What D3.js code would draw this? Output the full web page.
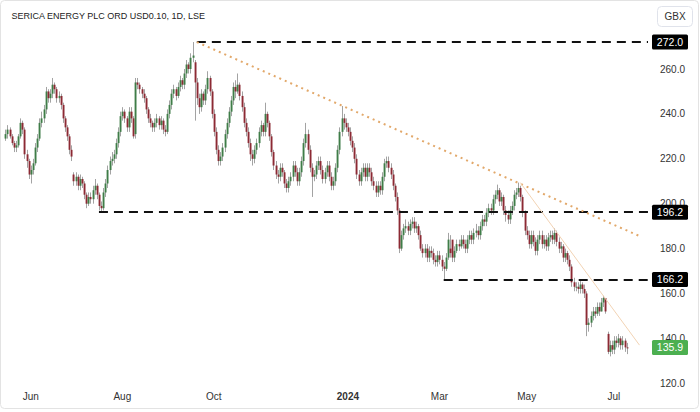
<!DOCTYPE html>
<html><head><meta charset="utf-8">
<script src="https://cdn.jsdelivr.net/npm/d3@7"></script>
<style>html,body{margin:0;padding:0;background:#fff;}svg{display:block;font-family:"Liberation Sans",Arial,sans-serif;}</style>
</head><body><svg id="c" width="700" height="412"></svg>
<script>
const title = "SERICA ENERGY PLC ORD USD0.10, 1D, LSE";
const currency = "GBX";
const firstDate = "2023-05-15";
const holidays = ["2023-05-29","2023-08-28","2023-12-25","2023-12-26","2024-01-01","2024-03-29","2024-04-01","2024-05-06","2024-05-27"];

const opens = [229,231,233,230,227,225,226,230,236,233,222,219,
213,215,218,225,229,236,238,242,250,247,249,253,251,247,248,244,238,234,230,224,213,210,
212,208,211,209,204,200,203,202,206,208,204,199,198,205,209,215,219,220,222,227,232,
239,241,238,234,241,238,231,254,253,251,249,247,242,238,236,234,236,238,235,237,233,232,
240,244,249,251,248,252,255,253,258,262,260,265,263,254,247,243,249,246,251,256,250,
240,232,224,219,221,225,231,236,241,246,252,250,253,248,243,236,232,227,222,220,224,227,
232,235,232,240,236,230,223,217,213,212,216,214,209,207,210,212,217,214,210,214,219,227,
231,224,216,212,213,217,219,215,211,214,217,212,208,210,216,224,232,238,236,
234,232,228,225,220,213,210,214,216,212,216,214,210,208,205,208,206,212,218,219,216,213,
208,203,197,180,186,189,190,188,191,192,189,190,186,180,178,180,176,179,178,175,174,
177,175,172,171,176,180,184,176,179,182,181,184,182,180,184,186,184,187,188,186,
190,193,192,196,198,197,202,204,206,201,203,197,195,193,197,199,204,205,207,203,196,
188,186,182,186,183,179,184,186,182,184,181,185,186,184,187,183,180,181,176,178,175,
172,165,163,163,162,164,162,160,146,147,150,152,151,154,152,156,158,142,134,137,
135,139,138,140,137,139,136];
const highs = [233,235,234,231,228,228,231,238,237,234,224,220,
217,220,227,231,238,241,244,252,251,251,256,254,252,250,249,245,239,235,231,226,214,214,
213,213,212,210,205,205,205,208,211,209,205,201,207,211,217,221,223,224,229,234,241,
243,242,239,243,243,239,256,256,254,252,251,248,243,240,237,238,240,239,239,238,235,242,
246,251,253,252,254,257,256,260,264,263,267,272,264,256,249,251,250,253,259,257,251,
242,234,226,223,227,233,238,243,248,254,255,258,254,250,245,238,234,229,224,226,229,234,
237,236,245,241,237,231,224,219,215,218,218,215,211,212,214,219,219,216,216,221,229,236,
233,226,218,215,219,221,221,217,216,219,219,214,212,218,226,234,243.5,240,238,
236,234,230,227,222,215,216,218,218,218,218,216,212,210,210,210,214,220,221,221,218,215,
209,205,198,188,191,193,192,193,194,194,192,191,188,182,182,182,181,181,180,177,179,
179,177,174,178,187,186,180,181,184,184,186,186,184,186,188,188,189,191,190,192,
195,195,198,200,200,204,206,208.5,207,205,204,199,197,199,201,206,207,209.4,208,204,197,
190,188,188,188,185,186,188,188,186,186,187,188,188,189,188,185,183,182,180,179,177,
173,167,165,165,166,165,164,161,149,152,154,154,156,156,158,159,158,143,139,139,
141,141,142,141,141,140,138];
const lows = [228,229,229,226,223,223,225,229,231,220,216,211,
209,213,217,223,228,234,236,240,245,245,247,249,245,245,242,236,232,228,222,219,208,208,
206,206,207,202,198,199,200,200,204,202,197,196.2,197,203,207,213,217,218,220,225,230,
237,236,232,232,236,229,229,251,249,247,245,240,236,234,232,232,234,233,233,231,230,231,
238,242,247,246,247,250,251,251,256,258,258,263,237,244,240,241,244,244,249,248,238,
230,222,217,217,219,223,229,234,239,244,247,249,246,241,234,230,225,219,217,218,222,225,
230,230,230,234,228,221,215,211,209,210,212,207,205,205,208,210,212,208,208,212,217,225,
222,214,203,210,211,215,213,209,209,212,210,206,206,208,214,222,230,233,232,
230,226,223,218,211,208,208,212,210,210,212,208,206,203,203,204,204,210,216,214,211,206,
201,195,178,179,184,187,186,186,189,187,187,184,179,176,176,174,174,176,173,172,172,
173,170,166.2,170,175,176,174,174,178,179,180,180,178,178,182,182,182,185,184,184,
188,190,190,194,195,195,200,202,199,199,195,192,191,191,195,197,202,203,201,194,186,
184,180,180,181,177,177,182,180,180,179,179,183,182,182,181,178,178,174,174,173,170,
163,161,161,160,160,160,158,141,143,145,148,149,150,150,152,154,151,133,132,133,
133,136,136,135,135,134,133];
const closes = [231,233,230,227,225,226,230,236,233,222,219,213,
215,218,225,229,236,238,242,250,247,249,253,251,247,248,244,238,234,230,224,221,210,212,
208,211,209,204,200,203,202,206,208,204,199,198,205,209,215,219,220,222,227,232,239,
241,238,234,241,238,230,254,253,251,249,247,242,238,236,234,236,238,235,237,233,232,240,
244,249,251,248,252,255,253,258,262,260,265,266,254,247,243,249,246,251,256,250,240,
232,224,219,221,225,231,236,241,246,252,250,253,248,243,236,232,227,222,220,224,227,232,
235,232,240,236,230,223,217,213,212,216,214,209,207,210,212,217,214,210,214,219,227,231,
224,216,212,213,217,219,215,211,214,217,212,208,210,216,224,232,238,236,234,
232,228,225,220,213,210,214,216,212,216,214,210,208,205,208,206,212,218,219,216,213,208,
203,197,180,186,189,190,188,191,192,189,190,186,180,178,180,176,179,178,175,174,177,
175,172,171,176,184,178,176,179,182,181,184,182,180,184,186,184,187,188,186,190,
193,192,196,198,197,202,204,206,201,203,197,195,193,197,199,204,205,207,203,196,188,
186,182,186,183,179,184,186,182,184,181,185,186,184,187,183,180,181,176,178,175,172,
165,163,163,162,164,162,160,146,147,150,152,151,154,152,156,158,152,134,137,135,
139,138,140,137,139,136,135.9];

const yTicks = [120,140,160,180,200,220,240,260];
const xTickMonths = ["2023-06","2023-08","2023-10","2024-01","2024-03","2024-05","2024-07"];
const xTickLabels = ["Jun","Aug","Oct","2024","Mar","May","Jul"];

// horizontal levels: value and the date they start from
const levelValues = [272.0, 196.2, 166.2];
const levelStartDates = ["2023-09-20","2023-07-17","2024-03-05"];
// trend lines: start [date, value], end [bars after last bar, value]
const trendDotted = {from:["2023-09-20",272.0], to:[6,185.6]};
const trendSolid  = {from:["2024-04-26",209.4], to:[6,137.0]};
const lastValue = 135.9;

// ---- build trading dates ----
const fmt = d3.utcFormat("%Y-%m-%d");
const dates = [];
{
  let d = new Date(firstDate + "T00:00:00Z");
  while (dates.length < closes.length) {
    const wd = d.getUTCDay();
    const s = fmt(d);
    if (wd !== 0 && wd !== 6 && !holidays.includes(s)) dates.push(s);
    d = d3.utcDay.offset(d, 1);
  }
}
const bars = closes.map((c,i)=>({i, date:dates[i], o:opens[i], h:highs[i], l:lows[i], c}));
const idxOf = s => dates.indexOf(s);

const W = 700, H = 412;
const plotR = 648, plotT = 30, plotB = 388;
const x = d3.scaleLinear().domain([-2.5, 302]).range([0, plotR]);
const y = d3.scaleLinear().domain([120, 260]).range([383.3, 69]);

const svg = d3.select("#c");
svg.append("rect").attr("x",0.5).attr("y",0.5).attr("width",W-2).attr("height",H-4)
  .attr("rx",4).attr("fill","#fff").attr("stroke","#e3e3e3");

svg.append("defs").append("clipPath").attr("id","clip")
  .append("rect").attr("x",1).attr("y",plotT).attr("width",plotR-1).attr("height",plotB-plotT);

const g = svg.append("g").attr("clip-path","url(#clip)");

// candles
const upCol = "#3f7d48", dnCol = "#8c2a34", wickCol = "#a3a3a3";
g.append("g").selectAll("line").data(bars).join("line")
  .attr("x1",d=>Math.round(x(d.i))+0.5).attr("x2",d=>Math.round(x(d.i))+0.5)
  .attr("y1",d=>y(d.h)).attr("y2",d=>y(d.l))
  .attr("stroke",wickCol).attr("stroke-width",1);
g.append("g").selectAll("rect").data(bars).join("rect")
  .attr("x",d=>Math.round(x(d.i))-0.4).attr("width",1.9)
  .attr("y",d=>y(Math.max(d.o,d.c)))
  .attr("height",d=>Math.max(1,Math.abs(y(d.o)-y(d.c))))
  .attr("fill",d=>d.c>=d.o?upCol:dnCol);

// horizontal dashed levels
levelValues.forEach((v,k)=>{
  g.append("line").attr("x1",x(idxOf(levelStartDates[k]))).attr("x2",plotR)
    .attr("y1",Math.round(y(v))).attr("y2",Math.round(y(v)))
    .attr("stroke","#111").attr("stroke-width",2).attr("stroke-dasharray","9,6");
});

// trend lines
const lastI = closes.length-1;
g.append("line")
  .attr("x1",x(idxOf(trendDotted.from[0]))).attr("y1",y(trendDotted.from[1]))
  .attr("x2",x(lastI+trendDotted.to[0])).attr("y2",y(trendDotted.to[1]))
  .attr("stroke","#e2a86a").attr("stroke-width",2).attr("stroke-dasharray","2,4");
g.append("line")
  .attr("x1",x(idxOf(trendSolid.from[0]))).attr("y1",y(trendSolid.from[1]))
  .attr("x2",x(lastI+trendSolid.to[0])).attr("y2",y(trendSolid.to[1]))
  .attr("stroke","#f2d3b4").attr("stroke-width",1);

// right axis tick labels
const axG = svg.append("g");
axG.selectAll("text.yt").data(yTicks).join("text").attr("class","yt")
  .attr("x",685).attr("y",d=>y(d)).attr("dy","0.35em").attr("text-anchor","end")
  .attr("font-size",10).attr("fill","#333").text(d=>d3.format(".1f")(d));

// price label boxes
const boxes = levelValues.map(v=>({v, fill:"#000"})).concat([{v:lastValue, fill:"#4caf50"}]);
const bx = axG.selectAll("g.bx").data(boxes).join("g").attr("class","bx");
bx.append("rect").attr("x",652).attr("y",d=>y(d.v)-7.5).attr("width",36).attr("height",15)
  .attr("rx",1.5).attr("fill",d=>d.fill);
bx.append("text").attr("x",670).attr("y",d=>y(d.v)).attr("dy","0.35em").attr("text-anchor","middle")
  .attr("font-size",10.5).attr("fill","#fff").text(d=>d3.format(".1f")(d.v));

// x axis labels
xTickMonths.forEach((m,k)=>{
  const i = dates.findIndex(s=>s.startsWith(m));
  if (i < 0) return;
  svg.append("text").attr("x",x(i)).attr("y",396).attr("dy","0.35em").attr("text-anchor","middle")
    .attr("font-size",10).attr("font-weight", xTickLabels[k]==="2024"?"bold":"normal")
    .attr("fill","#333").text(xTickLabels[k]);
});

// title
svg.append("text").attr("x",11.5).attr("y",16).attr("dy","0.35em").attr("font-size",9)
  .attr("fill","#222").text(title);

// currency box
svg.append("rect").attr("x",657.5).attr("y",6.5).attr("width",35).attr("height",20).attr("rx",4)
  .attr("fill","#fff").attr("stroke","#e0e3eb");
svg.append("text").attr("x",675).attr("y",16.5).attr("dy","0.35em").attr("text-anchor","middle")
  .attr("font-size",10).attr("fill","#333").text(currency);
</script></body></html>
